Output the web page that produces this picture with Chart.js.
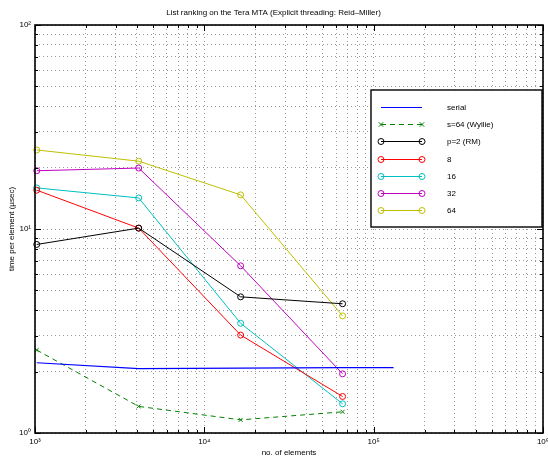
<!DOCTYPE html>
<html><head><meta charset="utf-8">
<script src="https://cdn.jsdelivr.net/npm/chart.js@4/dist/chart.umd.min.js"></script>
<style>html,body{margin:0;padding:0;background:#fff;}#wrap{width:548px;height:458px;}</style>
</head><body><div id="wrap"><canvas id="c" width="548" height="458"></canvas></div>
<script>
// ---- data ----
const sizes = [1024, 4096, 16384, 65536];
const serialSizes = [1024, 4096, 16384, 65536, 131072];
const serial = [2.21, 2.07, 2.08, 2.09, 2.09];
const wyllie = [2.55, 1.35, 1.16, 1.27];
const p2 = [8.4, 10.1, 4.65, 4.3];
const p8 = [15.5, 10.1, 3.02, 1.51];
const p16 = [15.9, 14.2, 3.45, 1.39];
const p32 = [19.3, 19.9, 6.6, 1.95];
const p64 = [24.4, 21.5, 14.7, 3.75];
const seriesLabels = ['serial', 's=64 (Wyllie)', 'p=2 (RM)', '8', '16', '32', '64'];
const xTickValues = [1e3, 1e4, 1e5, 1e6];
const yTickValues = [1, 10, 100];
const titleText = 'List ranking on the Tera MTA (Explicit threading: Reid\u2013Miller)';
const xTitle = 'no. of elements';
const yTitle = 'time per element (\u00b5sec)';

const SUP = {'0':'\u2070','1':'\u00b9','2':'\u00b2','3':'\u00b3','4':'\u2074','5':'\u2075','6':'\u2076','7':'\u2077','8':'\u2078','9':'\u2079'};
function powLabel(v){ const e = Math.round(Math.log10(v)); return '10' + String(e).split('').map(c=>SUP[c]).join(''); }
function isMajor(v, list){ return list.some(t => Math.abs(t - v) / t < 1e-9); }
function logTicks(min, max){
  const out = [];
  for (let e = Math.round(Math.log10(min)); e < Math.round(Math.log10(max)); e++) {
    for (let m = 1; m < 10; m++) out.push({value: m * Math.pow(10, e)});
  }
  out.push({value: max});
  return out;
}
const pts = (xs, ys) => xs.map((x, i) => ({x: x, y: ys[i]}));

const FONT = {family: '"Liberation Sans", Arial, sans-serif', size: 8};
const colors = ['#0000ff', '#008000', '#000000', '#ff0000', '#00bfbf', '#bf00bf', '#bfbf00'];

function ds(label, data, color, extra){
  return Object.assign({
    label: label, data: data, borderColor: color, backgroundColor: 'rgba(0,0,0,0)',
    borderWidth: 1, pointRadius: 3, pointBorderWidth: 1, pointStyle: 'circle',
    pointBorderColor: color, pointBackgroundColor: 'rgba(0,0,0,0)', tension: 0, clip: 8
  }, extra || {});
}

const datasets = [
  ds(seriesLabels[0], pts(serialSizes, serial), colors[0], {pointRadius: 0, borderWidth: 1.2}),
  ds(seriesLabels[1], pts(sizes, wyllie), colors[1], {pointStyle: 'crossRot', pointRadius: 2.8, borderDash: [5, 4]}),
  ds(seriesLabels[2], pts(sizes, p2), colors[2]),
  ds(seriesLabels[3], pts(sizes, p8), colors[3]),
  ds(seriesLabels[4], pts(sizes, p16), colors[4]),
  ds(seriesLabels[5], pts(sizes, p32), colors[5]),
  ds(seriesLabels[6], pts(sizes, p64), colors[6])
];

const frame = {
  id: 'frame',
  afterDatasetsDraw(chart){
    const ctx = chart.ctx, a = chart.chartArea;
    const xs = chart.scales.x, ys = chart.scales.y;
    ctx.save();
    ctx.strokeStyle = '#000';
    ctx.lineWidth = 1;
    ctx.beginPath();
    xs.ticks.forEach(t => {
      const px = Math.round(xs.getPixelForValue(t.value)) + 0.5;
      const len = isMajor(t.value, xTickValues) ? 6 : 3;
      ctx.moveTo(px, a.bottom); ctx.lineTo(px, a.bottom - len);
      ctx.moveTo(px, a.top); ctx.lineTo(px, a.top + len);
    });
    ys.ticks.forEach(t => {
      const py = Math.round(ys.getPixelForValue(t.value)) + 0.5;
      const len = isMajor(t.value, yTickValues) ? 6 : 3;
      ctx.moveTo(a.left, py); ctx.lineTo(a.left + len, py);
      ctx.moveTo(a.right, py); ctx.lineTo(a.right - len, py);
    });
    ctx.stroke();
    ctx.lineWidth = 1.6;
    ctx.strokeRect(a.left, a.top, a.right - a.left, a.bottom - a.top);
    ctx.restore();
  },
  afterDraw(chart){
    // legend box (matlab style)
    const ctx = chart.ctx;
    const bx = 371, by = 90, bw = 171, bh = 137;
    ctx.save();
    ctx.fillStyle = '#fff';
    ctx.fillRect(bx, by, bw, bh);
    ctx.strokeStyle = '#000'; ctx.lineWidth = 1.4;
    ctx.strokeRect(bx, by, bw, bh);
    const x0 = 381, x1 = 422, tx = 447;
    ctx.font = '8px "Liberation Sans", Arial, sans-serif';
    ctx.textBaseline = 'middle';
    chart.data.datasets.forEach((d, i) => {
      const y = Math.round(107 + i * 17.2) + 0.5;
      ctx.strokeStyle = d.borderColor; ctx.lineWidth = d.borderWidth;
      ctx.setLineDash(d.borderDash || []);
      ctx.beginPath(); ctx.moveTo(x0, y); ctx.lineTo(x1, y); ctx.stroke();
      ctx.setLineDash([]);
      ctx.lineWidth = 1;
      [x0, x1].forEach(px => {
        if (d.pointRadius > 0) {
          ctx.beginPath();
          if (d.pointStyle === 'crossRot') {
            const r = 2.2;
            ctx.moveTo(px - r, y - r); ctx.lineTo(px + r, y + r);
            ctx.moveTo(px - r, y + r); ctx.lineTo(px + r, y - r);
          } else {
            ctx.arc(px, y, 3, 0, Math.PI * 2);
          }
          ctx.stroke();
        }
      });
      ctx.fillStyle = '#000';
      ctx.fillText(d.label, tx, y);
    });
    ctx.restore();
  }
};

const gridStyle = {color: 'rgba(0,0,0,0.4)', lineWidth: 1, drawTicks: false};

new Chart(document.getElementById('c'), {
  type: 'line',
  data: {datasets: datasets},
  plugins: [frame],
  options: {
    responsive: false, animation: false, devicePixelRatio: 1,
    layout: {padding: {left: 0, right: 1, top: 0, bottom: 0}},
    plugins: {
      legend: {display: false}, tooltip: {enabled: false},
      title: {display: true, text: titleText, color: '#000', font: Object.assign({}, FONT, {weight: 'normal'}), padding: {top: 8, bottom: 7.4}}
    },
    scales: {
      x: {
        type: 'logarithmic', position: 'bottom', min: 1e3, max: 1e6,
        grid: gridStyle, border: {display: false, dash: [1, 3]},
        afterBuildTicks: s => { s.ticks = logTicks(1e3, 1e6); },
        afterFit: s => { s.height = 25; s.paddingLeft = 0; s.paddingRight = 0; },
        ticks: {autoSkip: false, maxRotation: 0, color: '#000', font: FONT, padding: 4,
          callback: v => isMajor(v, xTickValues) ? powLabel(v) : ''},
        title: {display: true, text: xTitle, color: '#000', font: FONT, padding: {top: 0, bottom: 0}}
      },
      y: {
        type: 'logarithmic', position: 'left', min: 1, max: 100,
        grid: gridStyle, border: {display: false, dash: [1, 3]},
        afterBuildTicks: s => { s.ticks = logTicks(1, 100); },
        afterFit: s => { s.width = 35; s.paddingTop = 0; s.paddingBottom = 0; },
        ticks: {autoSkip: false, color: '#000', font: FONT, padding: 4,
          callback: v => isMajor(v, yTickValues) ? powLabel(v) : ''},
        title: {display: true, text: yTitle, color: '#000', font: FONT, padding: {top: 7, bottom: 0}}
      }
    }
  }
});
</script></body></html>
